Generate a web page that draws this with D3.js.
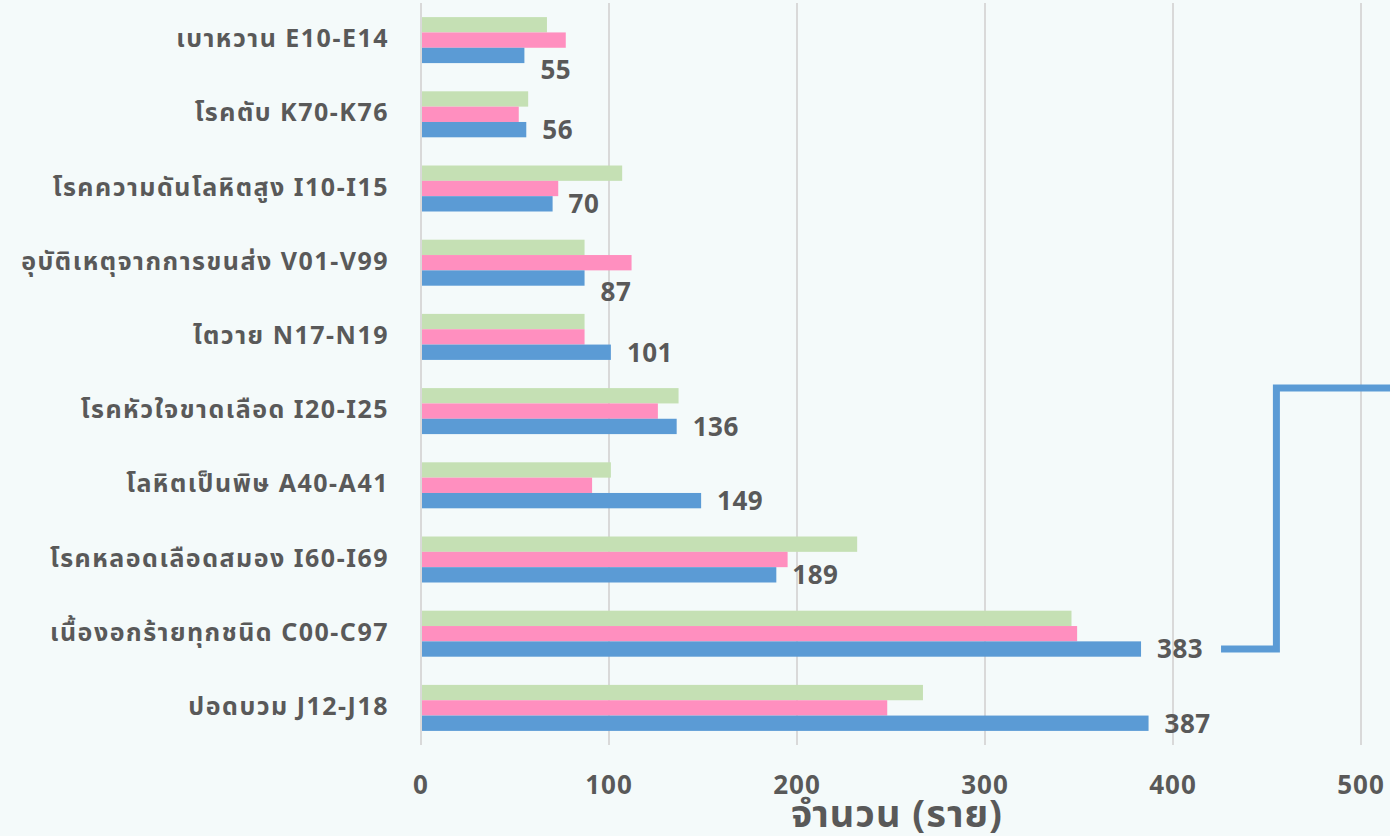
<!DOCTYPE html>
<html>
<head>
<meta charset="utf-8">
<script src="https://cdn.jsdelivr.net/npm/d3@7"></script>
<style>
    body { margin: 0; background: #f4fafa; }
    svg { display: block; }
    text { font-family: "Noto Sans", "Noto Sans Thai", "DejaVu Sans", sans-serif; font-weight: 700; fill: #595959; }
</style>
</head>
<body>
<div id="chart"></div>
<script>
// categories top to bottom
const categories = [
    "เบาหวาน E10-E14",
    "โรคตับ K70-K76",
    "โรคความดันโลหิตสูง I10-I15",
    "อุบัติเหตุจากการขนส่ง V01-V99",
    "ไตวาย  N17-N19",
    "โรคหัวใจขาดเลือด I20-I25",
    "โลหิตเป็นพิษ  A40-A41",
    "โรคหลอดเลือดสมอง I60-I69",
    "เนื้องอกร้ายทุกชนิด C00-C97",
    "ปอดบวม J12-J18"
];
const seriesGreen = [67, 57, 107, 87, 87, 137, 101, 232, 346, 267];
const seriesPink  = [77, 52, 73, 112, 87, 126, 91, 195, 349, 248];
const seriesBlue  = [55, 56, 70, 87, 101, 136, 149, 189, 383, 387];
const seriesColors = ["#c5e0b4", "#ff8fbf", "#5b9bd5"];
const xTicks = [0, 100, 200, 300, 400, 500];
const xTitle = "จำนวน (ราย)";

const width = 1390, height = 836;
const margin = {top: 3, right: 29, bottom: 91, left: 421};

const svg = d3.select('#chart')
    .append('svg')
    .attr('width', width)
    .attr('height', height);

const x = d3.scaleLinear()
    .domain([0, 500])
    .range([margin.left, width - margin.right]);

const y = d3.scaleBand()
    .domain(categories)
    .range([margin.top, height - margin.bottom])
    .paddingInner(0.38)
    .paddingOuter(0.19);

const ySub = d3.scaleBand()
    .domain([0, 1, 2])
    .range([0, y.bandwidth()]);

// gridlines
svg.append('g')
    .selectAll('line')
    .data(xTicks)
    .enter().append('line')
    .attr('x1', d => x(d))
    .attr('x2', d => x(d))
    .attr('y1', margin.top)
    .attr('y2', height - margin.bottom)
    .attr('stroke', '#d9d9d9')
    .attr('stroke-width', 2);

// bars
const series = [seriesGreen, seriesPink, seriesBlue];
series.forEach((vals, si) => {
    svg.append('g')
        .selectAll('rect')
        .data(vals)
        .enter().append('rect')
        .attr('x', x(0) + 1)
        .attr('y', (d, i) => y(categories[i]) + ySub(si))
        .attr('width', d => x(d) - x(0) - 1)
        .attr('height', ySub.bandwidth())
        .attr('fill', seriesColors[si]);
});

// value labels on blue series (two were nudged down in the original)
const nudged = new Set([0, 3]);
svg.append('g')
    .selectAll('text')
    .data(seriesBlue)
    .enter().append('text')
    .attr('x', d => x(d) + 16)
    .attr('y', (d, i) => y(categories[i]) + ySub(2) + ySub.bandwidth() / 2 + (nudged.has(i) ? 14 : 0))
    .attr('dy', '0.36em')
    .style('font-size', '26px')
    .style('letter-spacing', '0.5px')
    .text(d => d);

// leader line from the 383 label
const iC = 8, iTop = 5;
const lx0 = x(seriesBlue[iC]) + 80;
const lx1 = x(455);
const ly0 = y(categories[iC]) + ySub(2) + ySub.bandwidth() / 2;
const ly1 = y(categories[iTop]);
svg.append('path')
    .attr('d', `M${lx0},${ly0}H${lx1}V${ly1}H${width + 10}`)
    .attr('fill', 'none')
    .attr('stroke', '#5b9bd5')
    .attr('stroke-width', 7);

// category labels
svg.append('g')
    .selectAll('text')
    .data(categories)
    .enter().append('text')
    .attr('x', 389)
    .attr('y', d => y(d) + y.bandwidth() / 2 - 2)
    .attr('dy', '0.36em')
    .attr('text-anchor', 'end')
    .style('font-size', '25px')
    .style('letter-spacing', '1.5px')
    .text(d => d);

// x tick labels
svg.append('g')
    .selectAll('text')
    .data(xTicks)
    .enter().append('text')
    .attr('x', d => x(d))
    .attr('y', 785)
    .attr('dy', '0.36em')
    .attr('text-anchor', 'middle')
    .style('font-size', '26px')
    .style('letter-spacing', '1px')
    .text(d => d);

// axis title
svg.append('text')
    .attr('x', (x(0) + x(500)) / 2 + 6)
    .attr('y', 827)
    .attr('text-anchor', 'middle')
    .style('font-size', '38px')
    .style('letter-spacing', '1px')
    .text(xTitle);
</script>
</body>
</html>
